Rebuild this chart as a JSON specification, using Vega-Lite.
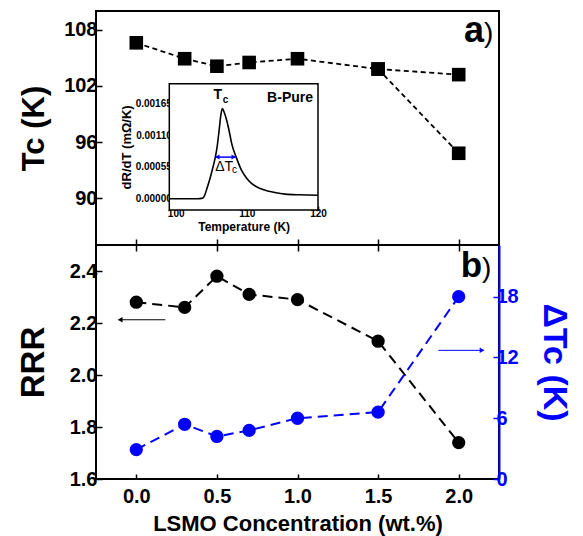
{
  "$schema": "https://vega.github.io/schema/vega-lite/v6.json",
  "padding": {"left": 16, "top": 10, "right": 5, "bottom": 2},
  "spacing": 0,
  "bounds": "flush",
  "background": "white",
  "config": {
    "view": {"stroke": "black", "strokeWidth": 2},
    "axis": {"grid": false, "labelFont": "Liberation Sans", "titleFont": "Liberation Sans", "labelFontWeight": "bold", "titleFontWeight": "bold", "labelColor": "black", "titleColor": "black", "tickColor": "black", "domainColor": "black", "tickWidth": 1.5, "domainWidth": 2, "labelFlush": false},
    "text": {"font": "Liberation Sans"}
  },
  "datasets": {
    "tc": [
      {"conc": 0, "tc": 106.6, "branch": "A"},
      {"conc": 0.3, "tc": 104.9, "branch": "A"},
      {"conc": 0.5, "tc": 104.1, "branch": "A"},
      {"conc": 0.7, "tc": 104.5, "branch": "A"},
      {"conc": 1.0, "tc": 104.9, "branch": "A"},
      {"conc": 1.5, "tc": 103.8, "branch": "A"},
      {"conc": 2.0, "tc": 103.2, "branch": "A"},
      {"conc": 1.5, "tc": 103.8, "branch": "B"},
      {"conc": 2.0, "tc": 94.8, "branch": "B"}
    ],
    "rrr": [
      {"conc": 0, "rrr": 2.28},
      {"conc": 0.3, "rrr": 2.26},
      {"conc": 0.5, "rrr": 2.38},
      {"conc": 0.7, "rrr": 2.31},
      {"conc": 1.0, "rrr": 2.29},
      {"conc": 1.5, "rrr": 2.13},
      {"conc": 2.0, "rrr": 1.74}
    ],
    "dtc": [
      {"conc": 0, "dtc": 2.9},
      {"conc": 0.3, "dtc": 5.4},
      {"conc": 0.5, "dtc": 4.2},
      {"conc": 0.7, "dtc": 4.8},
      {"conc": 1.0, "dtc": 6.0},
      {"conc": 1.5, "dtc": 6.6},
      {"conc": 2.0, "dtc": 18.0}
    ],
    "curve": [
      {"T": 99.1, "d": 0},
      {"T": 101, "d": 0},
      {"T": 103, "d": 0},
      {"T": 103.8, "d": 0.00001},
      {"T": 104.0, "d": 0.00004},
      {"T": 104.4, "d": 0.00018},
      {"T": 104.8, "d": 0.00034},
      {"T": 105.1, "d": 0.00048},
      {"T": 105.5, "d": 0.00068},
      {"T": 105.8, "d": 0.00088},
      {"T": 106.1, "d": 0.00118},
      {"T": 106.35, "d": 0.00145},
      {"T": 106.55, "d": 0.00156},
      {"T": 106.8, "d": 0.0015},
      {"T": 107.2, "d": 0.00134},
      {"T": 107.6, "d": 0.00112},
      {"T": 107.9, "d": 0.00094},
      {"T": 108.5, "d": 0.00072},
      {"T": 109.3, "d": 0.00048},
      {"T": 110.0, "d": 0.00035},
      {"T": 110.7, "d": 0.00026},
      {"T": 111.8, "d": 0.00018},
      {"T": 113.1, "d": 0.00013},
      {"T": 114.3, "d": 0.0001},
      {"T": 115.4, "d": 0.00008},
      {"T": 117.5, "d": 0.000068},
      {"T": 120, "d": 0.00006}
    ]
  },
  "vconcat": [
    {
      "width": 403,
      "height": 234,
      "resolve": {"scale": {"x": "independent", "y": "independent"}, "axis": {"x": "independent", "y": "independent"}},
      "layer": [
        {
          "data": {"name": "tc"},
          "encoding": {
            "x": {"field": "conc", "type": "quantitative", "scale": {"domain": [-0.25, 2.25], "nice": false, "zero": false},
              "axis": {"orient": "bottom", "values": [0, 0.5, 1, 1.5, 2], "labels": false, "title": null, "tickSize": -6, "domain": false}},
            "y": {"field": "tc", "type": "quantitative", "scale": {"domain": [85, 110], "nice": false, "zero": false},
              "axis": {"orient": "left", "values": [90, 96, 102, 108], "tickSize": -6, "domain": false, "labelFontSize": 20, "labelPadding": 5, "title": "Tc (K)", "titleFontSize": 31, "titlePadding": 13}}
          },
          "layer": [
            {"mark": {"type": "line", "color": "black", "strokeWidth": 1.8, "strokeDash": [5, 3.5]}, "encoding": {"detail": {"field": "branch"}}},
            {"mark": {"type": "point", "shape": "square", "filled": true, "size": 185, "color": "black", "opacity": 1}},
            {"data": {"values": [{"conc": 2.157, "tc": 106.64, "label": "a"}]}, "mark": {"type": "text", "align": "right", "baseline": "alphabetic", "fontSize": 36, "fontWeight": "bold", "color": "black"}, "encoding": {"text": {"field": "label"}}},
            {"data": {"values": [{"conc": 2.157, "tc": 106.64, "label": ")"}]}, "mark": {"type": "text", "align": "left", "baseline": "alphabetic", "fontSize": 28, "color": "black"}, "encoding": {"text": {"field": "label"}}}
          ]
        },
        {
          "encoding": {
            "x": {"field": "T", "type": "quantitative", "scale": {"domain": [99.1, 120], "range": [73.3, 222], "nice": false, "zero": false},
              "axis": {"orient": "bottom", "offset": -35, "values": [100, 110, 120], "tickSize": -4, "domain": false, "labelFontSize": 10, "labelPadding": 2, "title": "Temperature (K)", "titleFontSize": 12, "titlePadding": 3}},
            "y": {"field": "d", "type": "quantitative", "scale": {"domain": [-0.000195, 0.00199], "range": [199, 72.7], "nice": false, "zero": false},
              "axis": {"orient": "left", "offset": -73.3, "values": [0, 0.00055, 0.0011, 0.00165], "format": ".5f", "tickSize": -4, "domain": false, "labelFontSize": 10, "labelPadding": 2, "title": "dR/dT (mΩ/K)", "titleFontSize": 13, "titlePadding": 2}}
          },
          "layer": [
            {"data": {"values": [{"T": 99.1, "T2": 120, "d": -0.000195, "d2": 0.00199}]}, "mark": {"type": "rect", "fill": "white", "stroke": "black", "strokeWidth": 1.5}, "encoding": {"x2": {"field": "T2"}, "y2": {"field": "d2"}}},
            {"data": {"name": "curve"}, "mark": {"type": "line", "color": "black", "strokeWidth": 1.6, "interpolate": "monotone"}},
            {"data": {"values": [{"T": 105.6, "T2": 108.4, "d": 0.00072}]}, "mark": {"type": "rule", "color": "#0000ff", "strokeWidth": 1.5}, "encoding": {"x2": {"field": "T2"}}},
            {"data": {"values": [{"T": 105.85, "d": 0.00072}]}, "mark": {"type": "point", "shape": "triangle-left", "filled": true, "size": 25, "color": "#0000ff", "opacity": 1}},
            {"data": {"values": [{"T": 108.15, "d": 0.00072}]}, "mark": {"type": "point", "shape": "triangle-right", "filled": true, "size": 25, "color": "#0000ff", "opacity": 1}},
            {"data": {"values": [{"T": 105.9, "d": 0.00172, "label": "T"}]}, "mark": {"type": "text", "align": "center", "baseline": "alphabetic", "fontSize": 14, "fontWeight": "bold", "color": "black"}, "encoding": {"text": {"field": "label"}}},
            {"data": {"values": [{"T": 106.6, "d": 0.00165, "label": "c"}]}, "mark": {"type": "text", "align": "left", "baseline": "alphabetic", "fontSize": 10, "fontWeight": "bold", "color": "black"}, "encoding": {"text": {"field": "label"}}},
            {"data": {"values": [{"T": 106.8, "d": 0.00048, "label": "ΔT"}]}, "mark": {"type": "text", "align": "center", "baseline": "alphabetic", "fontSize": 14, "color": "black"}, "encoding": {"text": {"field": "label"}}},
            {"data": {"values": [{"T": 107.9, "d": 0.000445, "label": "c"}]}, "mark": {"type": "text", "align": "left", "baseline": "alphabetic", "fontSize": 10, "color": "black"}, "encoding": {"text": {"field": "label"}}},
            {"data": {"values": [{"T": 119.3, "d": 0.00168, "label": "B-Pure"}]}, "mark": {"type": "text", "align": "right", "baseline": "alphabetic", "fontSize": 14, "fontWeight": "bold", "color": "black"}, "encoding": {"text": {"field": "label"}}}
          ]
        }
      ]
    },
    {
      "width": 403,
      "height": 234,
      "resolve": {"scale": {"x": "independent", "y": "independent"}, "axis": {"x": "independent", "y": "independent"}},
      "layer": [
        {
          "data": {"name": "rrr"},
          "encoding": {
            "x": {"field": "conc", "type": "quantitative", "scale": {"domain": [-0.25, 2.25], "nice": false, "zero": false},
              "axis": {"orient": "bottom", "values": [0, 0.5, 1, 1.5, 2], "format": ".1f", "tickSize": -5, "domain": false, "labelFontSize": 20, "labelPadding": 12, "title": "LSMO Concentration (wt.%)", "titleFontSize": 22, "titlePadding": 7}},
            "y": {"field": "rrr", "type": "quantitative", "scale": {"domain": [1.6, 2.5], "nice": false, "zero": false},
              "axis": {"orient": "left", "values": [1.6, 1.8, 2.0, 2.2, 2.4], "format": ".1f", "tickSize": -6, "domain": false, "labelFontSize": 20, "labelPadding": 5, "title": "RRR", "titleFontSize": 33, "titlePadding": 19}}
          },
          "layer": [
            {"mark": {"type": "line", "color": "black", "strokeWidth": 2, "strokeDash": [10, 6]}},
            {"mark": {"type": "point", "shape": "circle", "filled": true, "size": 177, "color": "black", "opacity": 1}},
            {"data": {"values": [{"conc": -0.11, "conc2": 0.18, "rrr": 2.2125}]}, "mark": {"type": "rule", "color": "black", "strokeWidth": 1}, "encoding": {"x2": {"field": "conc2"}}},
            {"data": {"values": [{"conc": -0.1, "rrr": 2.2125}]}, "mark": {"type": "point", "shape": "triangle-left", "filled": true, "size": 30, "color": "black", "opacity": 1}},
            {"data": {"values": [{"conc": 2.145, "rrr": 2.377, "label": "b"}]}, "mark": {"type": "text", "align": "right", "baseline": "alphabetic", "fontSize": 35, "fontWeight": "bold", "color": "black"}, "encoding": {"text": {"field": "label"}}},
            {"data": {"values": [{"conc": 2.145, "rrr": 2.377, "label": ")"}]}, "mark": {"type": "text", "align": "left", "baseline": "alphabetic", "fontSize": 28, "color": "black"}, "encoding": {"text": {"field": "label"}}}
          ]
        },
        {
          "data": {"name": "dtc"},
          "encoding": {
            "x": {"field": "conc", "type": "quantitative", "scale": {"domain": [-0.25, 2.25], "nice": false, "zero": false},
              "axis": {"orient": "top", "values": [0, 0.5, 1, 1.5, 2], "labels": false, "title": null, "tickSize": -6, "domain": false}},
            "y": {"field": "dtc", "type": "quantitative", "scale": {"domain": [0, 23.1], "nice": false, "zero": false},
              "axis": {"orient": "right", "values": [0, 6, 12, 18], "tickSize": -6, "domain": true, "domainColor": "#0000ff", "tickColor": "#0000ff", "labelColor": "#0000ff", "titleColor": "#0000ff", "labelFontSize": 20, "labelPadding": 3, "title": "ΔTc (K)", "titleFontSize": 34, "titlePadding": 18}}
          },
          "layer": [
            {"mark": {"type": "line", "color": "#0000ff", "strokeWidth": 2, "strokeDash": [10, 6]}},
            {"mark": {"type": "point", "shape": "circle", "filled": true, "size": 177, "color": "#0000ff", "opacity": 1}},
            {"data": {"values": [{"conc": 1.874, "conc2": 2.155, "dtc": 12.7}]}, "mark": {"type": "rule", "color": "#0000ff", "strokeWidth": 1}, "encoding": {"x2": {"field": "conc2"}}},
            {"data": {"values": [{"conc": 2.145, "dtc": 12.7}]}, "mark": {"type": "point", "shape": "triangle-right", "filled": true, "size": 30, "color": "#0000ff", "opacity": 1}}
          ]
        }
      ]
    }
  ]
}
